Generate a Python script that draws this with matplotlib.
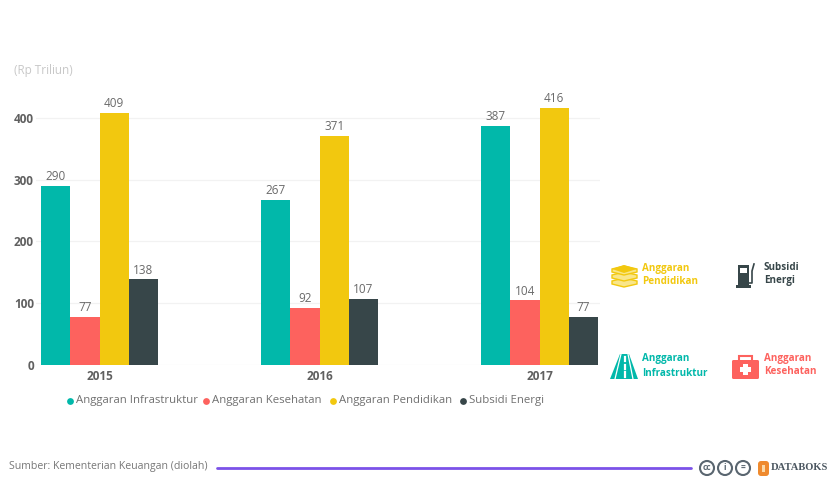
import matplotlib.pyplot as plt
from matplotlib.patches import Circle, Polygon, Rectangle, FancyBboxPatch

plt.rcParams['font.family'] = ['Open Sans', 'DejaVu Sans']

years = ['2015', '2016', '2017']
series_names = ['Anggaran Infrastruktur', 'Anggaran Kesehatan', 'Anggaran Pendidikan', 'Subsidi Energi']
infrastruktur = [290, 267, 387]
kesehatan = [77, 92, 104]
pendidikan = [409, 371, 416]
subsidi = [138, 107, 77]
y_ticks = [0, 100, 200, 300, 400]

TEAL = '#01b8aa'
RED = '#fd625e'
YELLOW = '#f2c80f'
DARK = '#374649'
colors = [TEAL, RED, YELLOW, DARK]

W, H = 832, 479
fig = plt.figure(figsize=(W / 100, H / 100), dpi=100, facecolor='white')

# bar chart area
ax = fig.add_axes([36 / W, 1 - 364.5 / H, 564 / W, 270 / H])
ax.set_xlim(-0.289, 2.275)
ax.set_ylim(0, 270 / 0.616)
bar_w = 0.133
for i, vals in enumerate([infrastruktur, kesehatan, pendidikan, subsidi]):
    xs = [k + (i - 1.5) * bar_w for k in range(len(years))]
    bars = ax.bar(xs, vals, width=bar_w, color=colors[i], zorder=3)
    ax.bar_label(bars, padding=2, fontsize=8.5, color='#6a6a6a')
ax.set_yticks(y_ticks)
ax.set_yticklabels(y_ticks, fontsize=8.5, fontweight='bold', color='#606060')
ax.set_xticks(range(len(years)))
ax.set_xticklabels(years, fontsize=8.5, fontweight='bold', color='#606060')
ax.tick_params(length=0)
ax.tick_params(axis='y', pad=1.5)
ax.tick_params(axis='x', pad=4)
ax.grid(axis='y', color='#f2f2f2', lw=0.9, zorder=0)
for s in ax.spines.values():
    s.set_visible(False)

# overlay in pixel coordinates for legend, icons and footer
ov = fig.add_axes([0, 0, 1, 1], facecolor='none')
ov.set_xlim(0, W)
ov.set_ylim(H, 0)
ov.axis('off')

ov.text(14, 70, '(Rp Triliun)', fontsize=8.5, color='#c8c8c8', va='center')

# legend row
dot_x = [70, 206, 333, 463]
for x, name, c in zip(dot_x, series_names, colors):
    ov.scatter([x], [401], s=24, color=c, linewidths=0)
    ov.text(x + 6, 400.5, name, fontsize=8.2, color='#707070', va='center')

# icon captions
captions = [
    (642, 268, 'Anggaran', YELLOW), (642, 282, 'Pendidikan', YELLOW),
    (764, 267, 'Subsidi', DARK), (764, 281, 'Energi', DARK),
    (642, 359, 'Anggaran', TEAL), (642, 373, 'Infrastruktur', TEAL),
    (764, 358, 'Anggaran', RED), (764, 372, 'Kesehatan', RED),
]
for x, y, t, c in captions:
    ov.text(x, y, t, fontsize=7.1, fontweight='bold', color=c, va='center')

# book stack
for y in [283, 277, 271]:
    ov.add_patch(Polygon([(612, y - 2), (624, y - 5), (637, y - 2), (637, y + 1), (624, y + 4), (612, y + 1)],
                         closed=True, fc='#f9e68a', ec=YELLOW, lw=1.0))
ov.add_patch(Polygon([(612, 269), (624, 265), (637, 269), (624, 273)], closed=True, fc=YELLOW, ec='none'))

# fuel pump
ov.add_patch(Rectangle((738, 265), 11, 21, fc=DARK, ec='none'))
ov.add_patch(Rectangle((740, 268), 7, 5, fc='white', ec='none'))
ov.add_patch(Rectangle((736, 285), 15, 3, fc=DARK, ec='none'))
ov.plot([749, 752, 752, 754], [283, 283, 271, 264], color=DARK, lw=1.2)

# road
ov.add_patch(Polygon([(610, 379), (620, 354), (629, 354), (638, 379)], closed=True, fc=TEAL, ec='none'))
ov.plot([615, 621], [379, 354], color='white', lw=0.9)
ov.plot([633, 628], [379, 354], color='white', lw=0.9)
for y0, y1 in [(357, 361), (365, 369), (372, 377)]:
    ov.plot([624.5, 624.5], [y0, y1], color='white', lw=1.6)

# first aid case
ov.add_patch(Rectangle((739, 356), 13, 6, fc='none', ec=RED, lw=1.5))
ov.add_patch(FancyBboxPatch((732, 360), 27, 19, boxstyle='round,pad=0,rounding_size=1.5', fc=RED, ec='none'))
ov.add_patch(Rectangle((743, 364), 5, 11, fc='white', ec='none'))
ov.add_patch(Rectangle((740, 367), 11, 5, fc='white', ec='none'))

# footer
ov.text(9, 467, 'Sumber: Kementerian Keuangan (diolah)', fontsize=7.6, color='#777777', va='center')
ov.plot([217, 691], [467.5, 467.5], color='#7b52e8', lw=2, solid_capstyle='round')
for x, t in zip([707, 725, 743], ['cc', 'i', '=']):
    ov.add_patch(Circle((x, 468), 7, fc='white', ec='#5a6670', lw=1.5))
    ov.text(x, 468, t, fontsize=6, fontweight='bold', color='#5a6670', ha='center', va='center')
ov.add_patch(FancyBboxPatch((758, 461), 11, 15, boxstyle='round,pad=0,rounding_size=3', fc='#ef8a2e', ec='none'))
ov.add_patch(Rectangle((762, 465), 3, 7, fc='#fbd9a8', ec='none'))
ov.text(771, 468, 'DATABOKS', fontsize=7.6, fontweight='bold', family='Liberation Serif', color='#4b5660', va='center')

fig.savefig('out.png', dpi=100)
